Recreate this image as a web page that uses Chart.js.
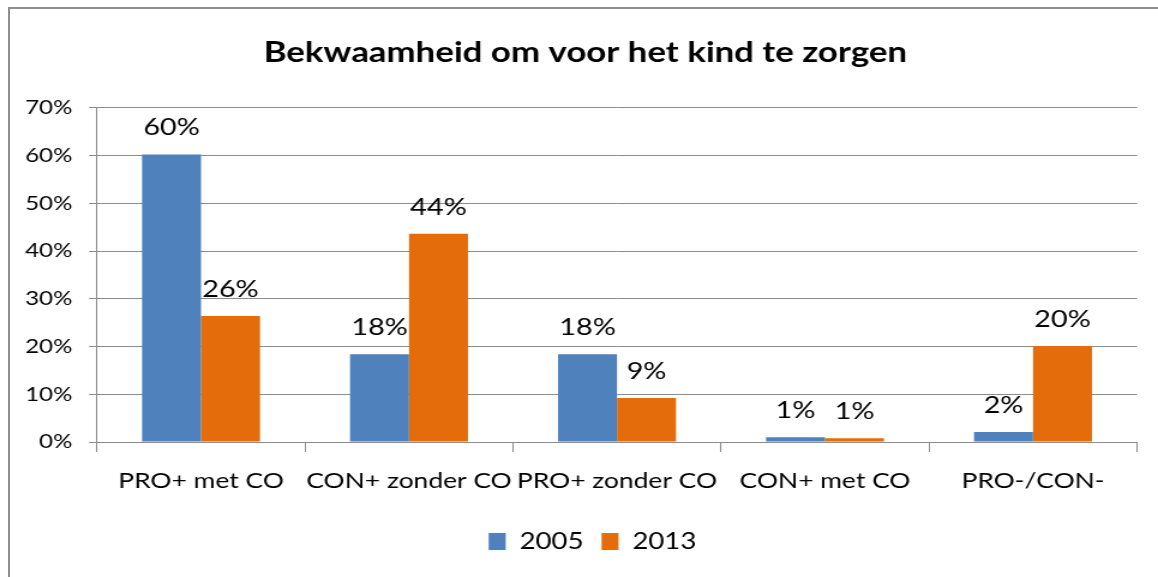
<!DOCTYPE html>
<html>
<head>
<meta charset="utf-8">
<script src="https://cdn.jsdelivr.net/npm/chart.js@4"></script>
<style>
  html, body { margin: 0; padding: 0; background: #fff; }
  #wrap { position: relative; width: 1158px; height: 577px; overflow: hidden; }
  #frame { position: absolute; left: 8px; top: 7px; width: 1200px; height: 600px;
           border-top: 2px solid #8f8f8f; border-left: 2px solid #8f8f8f; }
  /* the reference is stretched sideways, so the canvas is drawn narrower and widened */
  canvas { position: absolute; left: 0; top: 0; transform: scaleX(1.2); transform-origin: 0 0; }
</style>
</head>
<body>
<div id="wrap">
  <div id="frame"></div>
  <canvas id="chart" width="965" height="577"></canvas>
</div>
<script>
const categories = ['PRO+ met CO', 'CON+ zonder CO', 'PRO+ zonder CO', 'CON+ met CO', 'PRO-/CON-'];
const values2005 = [60.2, 18.4, 18.4, 1.0, 2.1];
const values2013 = [26.4, 43.6, 9.2, 0.8, 20.1];
const seriesNames = ['2005', '2013'];
const yTicks = [0, 10, 20, 30, 40, 50, 60, 70];

const fontFamily = 'Lato, "Open Sans", sans-serif';
const gridColor = '#8c8c8c';
const stretch = 1.2;

// draws the rounded percentage above each bar
const barLabels = {
  id: 'barLabels',
  afterDatasetsDraw(chart) {
    const { ctx } = chart;
    ctx.save();
    ctx.font = `24px ${fontFamily}`;
    ctx.fillStyle = '#000';
    ctx.textAlign = 'center';
    ctx.textBaseline = 'middle';
    chart.data.datasets.forEach((ds, di) => {
      chart.getDatasetMeta(di).data.forEach((bar, i) => {
        ctx.fillText(`${Math.round(ds.data[i])}%`, bar.x, bar.y - 27);
      });
    });
    ctx.restore();
  },
};

// title and legend sit a little right of the canvas centre in the reference
const nudgeBoxes = {
  id: 'nudgeBoxes',
  afterLayout(chart) {
    if (chart.titleBlock) { chart.titleBlock.left += 14; chart.titleBlock.right += 14; }
    if (chart.legend) { chart.legend.left += 20; chart.legend.right += 20; }
  },
};

new Chart(document.getElementById('chart'), {
  type: 'bar',
  data: {
    labels: categories,
    datasets: [
      { label: seriesNames[0], data: values2005, backgroundColor: '#4F81BD' },
      { label: seriesNames[1], data: values2013, backgroundColor: '#E46C0A' },
    ],
  },
  options: {
    responsive: false,
    animation: false,
    layout: { padding: { left: 0, right: 21 / stretch, top: 0, bottom: 14 } },
    datasets: { bar: { barPercentage: 1, categoryPercentage: 0.567 } },
    scales: {
      x: {
        afterFit(scale) { scale.height = 73; },
        border: { color: gridColor, width: 1 },
        grid: { drawOnChartArea: false, drawTicks: true, tickLength: 10, color: gridColor },
        ticks: {
          color: '#000',
          font: { family: fontFamily, size: 22 },
          padding: 16,
          autoSkip: false,
          maxRotation: 0,
          minRotation: 0,
        },
      },
      y: {
        min: 0,
        max: 70,
        afterFit(scale) { scale.width = 97 / stretch; },
        afterBuildTicks(scale) { scale.ticks = yTicks.map((v) => ({ value: v })); },
        border: { color: gridColor, width: 1 },
        grid: { color: gridColor, tickLength: 8 / stretch },
        ticks: {
          color: '#000',
          font: { family: fontFamily, size: 20 },
          padding: 14,
          callback(v) { return `${v}%`; },
        },
      },
    },
    plugins: {
      title: {
        display: true,
        text: 'Bekwaamheid om voor het kind te zorgen',
        color: '#000',
        font: { family: fontFamily, size: 29, weight: 'bold', lineHeight: 1.2 },
        padding: { top: 35, bottom: 38 },
      },
      legend: {
        position: 'bottom',
        labels: {
          color: '#000',
          font: { family: fontFamily, size: 23 },
          boxWidth: 17 / stretch,
          boxHeight: 17,
          padding: 15,
        },
      },
      tooltip: { enabled: false },
    },
  },
  plugins: [barLabels, nudgeBoxes],
});
</script>
</body>
</html>
